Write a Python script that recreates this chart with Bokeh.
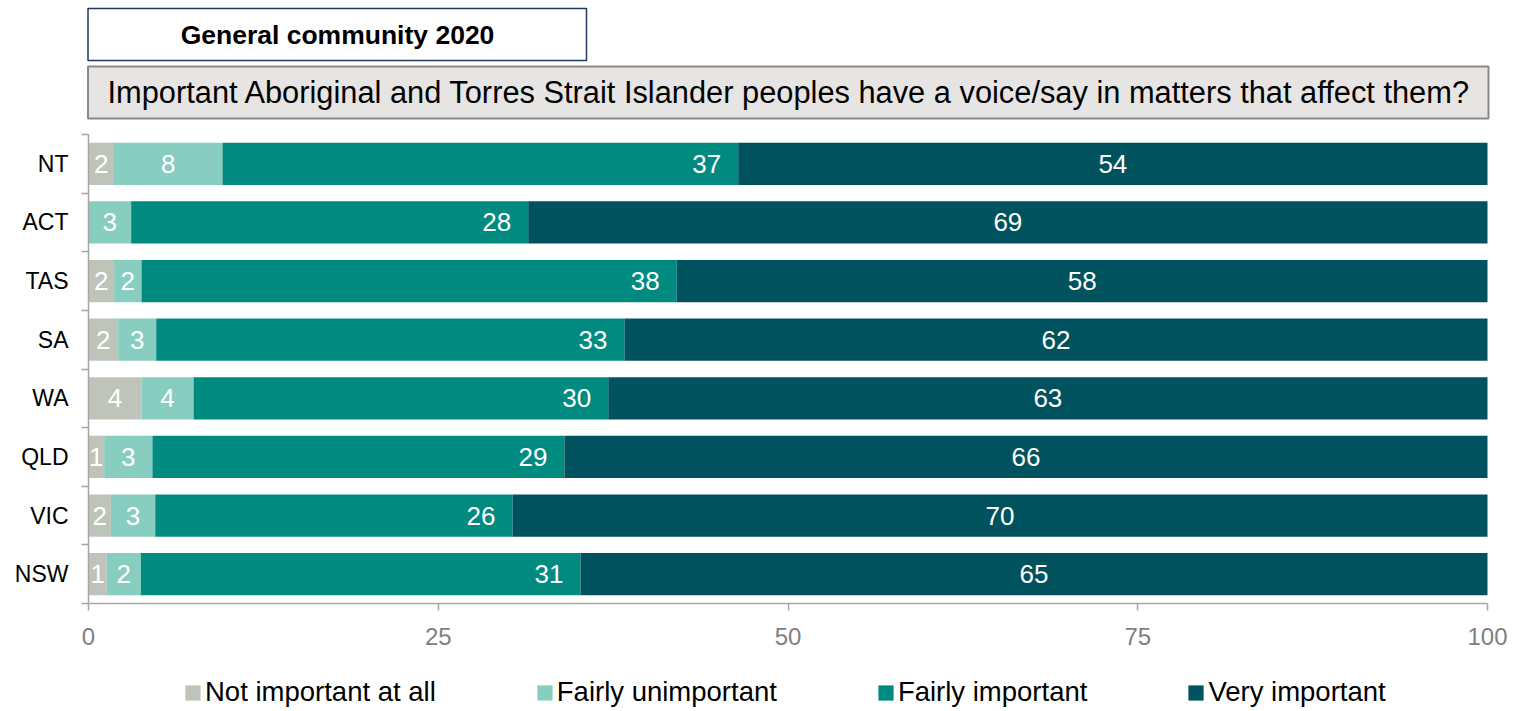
from bokeh.plotting import figure
from bokeh.models import ColumnDataSource, FixedTicker, Range1d
from bokeh.core.properties import value
from bokeh.embed import file_html
from bokeh.resources import INLINE

# ---------------- data (bottom to top) ----------------
states = ["NSW", "VIC", "QLD", "WA", "SA", "TAS", "ACT", "NT"]
not_important = [1.31, 1.60, 1.12, 3.79, 2.12, 1.83, 0.00, 1.82]
fairly_unimportant = [2.43, 3.17, 3.45, 3.72, 2.72, 1.96, 3.05, 7.76]
fairly_important = [31.43, 25.54, 29.45, 29.64, 33.47, 38.26, 28.38, 36.86]
very_important = [64.83, 69.69, 65.98, 62.85, 61.69, 57.95, 68.57, 53.56]
series_names = ["Not important at all", "Fairly unimportant", "Fairly important", "Very important"]
series_keys = ["not_important", "fairly_unimportant", "fairly_important", "very_important"]
colors = ["#BEC4BA", "#88CEC0", "#008A80", "#00525E"]
x_ticks = [0, 25, 50, 75, 100]
title_text = "General community 2020"
question_text = ("Important Aboriginal and Torres Strait Islander peoples have a "
                 "voice/say in matters that affect them?")

FONT = "Liberation Sans"

# ---------------- layout (pixels inside the figure) ----------------
W, H = 1520, 711
AX_L, AX_R = 88, 1487          # pixel positions of x = 0 and x = 100
BARS_TOP, BARS_BOTTOM = 134, 603
n = len(states)
ppu_x = (AX_R - AX_L) / 100.0
ppu_y = (BARS_BOTTOM - BARS_TOP) / n


def dx(px):
    return (px - AX_L) / ppu_x


def dy(py):
    return n + (BARS_TOP - py) / ppu_y


p = figure(width=W, height=H, output_backend="svg", toolbar_location=None,
           x_range=Range1d(dx(0), dx(W)), y_range=Range1d(dy(H), dy(0)),
           min_border_left=0, min_border_right=0,
           min_border_top=0, min_border_bottom=0)
p.xgrid.visible = False
p.ygrid.visible = False
p.outline_line_color = None
p.background_fill_color = "white"
p.border_fill_color = "white"

# ---------------- header boxes ----------------
p.quad(left=[dx(87.5)], right=[dx(586)], top=[dy(8)], bottom=[dy(60)],
       fill_color="white", line_color="#1F3864", line_width=1.5)
p.text(x=[dx(337)], y=[dy(34)], text=[title_text], text_align="center",
       text_baseline="middle", text_font=value(FONT), text_font_style="bold",
       text_font_size="26.5px", text_color="black")
p.quad(left=[dx(87.5)], right=[dx(1488)], top=[dy(66)], bottom=[dy(118)],
       fill_color="#E6E5E4", line_color="#8E8782", line_width=2)
p.text(x=[dx(107)], y=[dy(92)], text=[question_text], text_align="left",
       text_baseline="middle", text_font=value(FONT),
       text_font_size="30.8px", text_color="black")

# ---------------- bars ----------------
ys = [i + 0.5 for i in range(n)]
src = ColumnDataSource(dict(y=ys, not_important=not_important,
                            fairly_unimportant=fairly_unimportant,
                            fairly_important=fairly_important,
                            very_important=very_important))
p.hbar_stack(series_keys, y="y", height=0.72, color=colors, line_color=None,
             source=src, legend_label=series_names)

# ---------------- value labels ----------------
series = [not_important, fairly_unimportant, fairly_important, very_important]
cx, cy, ct = [], [], []
ex, ey, et = [], [], []
for i in range(n):
    start = 0.0
    for s, vals in enumerate(series):
        v = vals[i]
        end = start + v
        if v >= 0.5:
            lab = str(int(v + 0.5))
            if s == 2:
                ex.append(end); ey.append(ys[i]); et.append(lab)
            else:
                cx.append((start + end) / 2); cy.append(ys[i]); ct.append(lab)
        start = end
p.text(x=cx, y=cy, text=ct, text_align="center", text_baseline="middle",
       text_font=value(FONT), text_font_size="26px", text_color="white")
p.text(x=ex, y=ey, text=et, text_align="right", text_baseline="middle",
       x_offset=-17, text_font=value(FONT), text_font_size="26px", text_color="white")

# ---------------- axes ----------------
xa = p.xaxis[0]
xa.fixed_location = 0
xa.ticker = FixedTicker(ticks=x_ticks)
xa.bounds = (0, 100)
xa.axis_line_color = "#A6A6A6"
xa.axis_line_width = 1.5
xa.major_tick_line_color = "#A6A6A6"
xa.major_tick_line_width = 1.5
xa.major_tick_out = 7
xa.major_tick_in = 0
xa.minor_tick_line_color = None
xa.major_label_text_font = FONT
xa.major_label_text_font_size = "24px"
xa.major_label_text_color = "#808080"
xa.major_label_standoff = 17

ya = p.yaxis[0]
ya.fixed_location = 0
ya.ticker = FixedTicker(ticks=ys, minor_ticks=list(range(n + 1)))
ya.major_label_overrides = {y: s for y, s in zip(ys, states)}
ya.bounds = (0, n)
ya.axis_line_color = "#A6A6A6"
ya.axis_line_width = 1.5
ya.major_tick_line_color = None
ya.major_tick_out = 0
ya.major_tick_in = 0
ya.minor_tick_line_color = "#A6A6A6"
ya.minor_tick_line_width = 1.5
ya.minor_tick_out = 7
ya.minor_tick_in = 0
ya.major_label_text_font = FONT
ya.major_label_text_font_size = "23px"
ya.major_label_text_color = "black"
ya.major_label_standoff = 13

# ---------------- legend ----------------
lg = p.legend[0]
lg.orientation = "horizontal"
lg.location = (183, 3)
lg.padding = 0
lg.margin = 0
lg.spacing = 99
lg.glyph_width = 19
lg.glyph_height = 19
lg.label_standoff = 3
lg.label_text_font = FONT
lg.label_text_font_size = "27.5px"
lg.label_text_color = "black"
lg.background_fill_alpha = 0
lg.border_line_color = None

open("out.html", "w").write(file_html(p, INLINE))
